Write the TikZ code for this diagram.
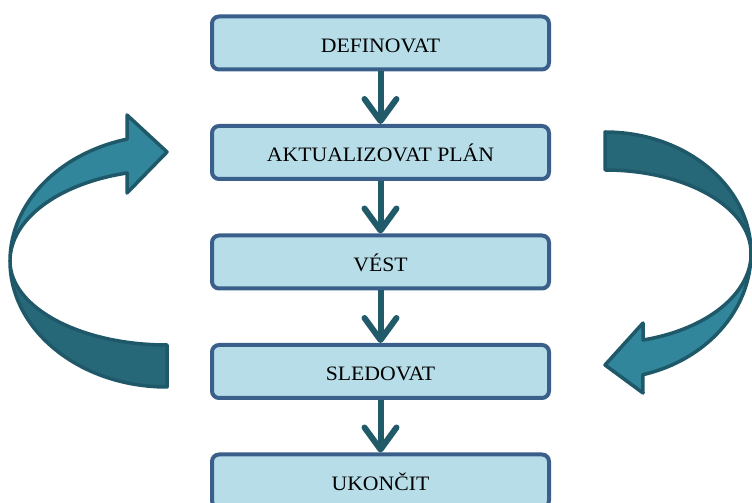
\documentclass[tikz,border=0pt]{standalone}
\usepackage{fontspec}
\setmainfont{Liberation Serif}
\newfontfamily\boxfont[FakeStretch=1.06]{Liberation Serif}
\usetikzlibrary{arrows.meta}
\definecolor{boxfill}{HTML}{B7DEE8}
\definecolor{boxline}{HTML}{3A5F8B}
\definecolor{flowline}{HTML}{215B6A}
\definecolor{bandlight}{HTML}{31869C}
\definecolor{banddark}{HTML}{276878}
\definecolor{bandline}{HTML}{1F5868}
\tikzset{
  stepbox/.style={draw=boxline, line width=4pt, fill=boxfill, rounded corners=7pt,
    minimum width=337pt, minimum height=53pt, inner sep=0pt,
    text height=18.5pt, text depth=0pt,
    font=\boxfont\fontsize{20.5}{22}\selectfont},
  flow/.style={draw=flowline, line width=6pt,
    -{Straight Barb[length=22pt,width=32pt,round]}},
  band/.style={draw=bandline, line width=3.5pt, line join=round}
}
\begin{document}
\begin{tikzpicture}[x=1pt,y=1pt]
\useasboundingbox (0,0) rectangle (752,503);

% process steps
\node[stepbox] (def) at (380.5,460) {DEFINOVAT};
\node[stepbox] (akt) at (380.5,350.5) {AKTUALIZOVAT PLÁN};
\node[stepbox] (ves) at (380.5,241) {VÉST};
\node[stepbox] (sle) at (380.5,131.5) {SLEDOVAT};
\node[stepbox] (uko) at (380.5,22) {UKONČIT};

% connectors between steps
\draw[flow] (def.south) -- (akt.north);
\draw[flow] (akt.south) -- (ves.north);
\draw[flow] (ves.south) -- (sle.north);
\draw[flow] (sle.south) -- (uko.north);

% left loop arrow: back band, then front band with head
\path[band, fill=banddark] (167,116) arc[start angle=270,end angle=180,x radius=157,y radius=126]
  arc[start angle=180,end angle=270,x radius=157,y radius=84] -- cycle;
\path[band, fill=bandlight] (10,242) arc[start angle=180,end angle=104.76,x radius=157,y radius=126]
  -- (127,388) -- (167,351) -- (127,310) -- (127,330)
  arc[start angle=104.76,end angle=180,x radius=157,y radius=91] -- cycle;

% right loop arrow: back band, then front band with head
\path[band, fill=banddark] (605,371) arc[start angle=90,end angle=0,x radius=146,y radius=121]
  arc[start angle=0,end angle=90,x radius=146,y radius=83] -- cycle;
\path[band, fill=bandlight] (751,250) arc[start angle=0,end angle=-75,x radius=146,y radius=126]
  -- (643,110) -- (605,138) -- (643,180) -- (643,163)
  arc[start angle=-75,end angle=0,x radius=146,y radius=90] -- cycle;
\end{tikzpicture}
\end{document}
